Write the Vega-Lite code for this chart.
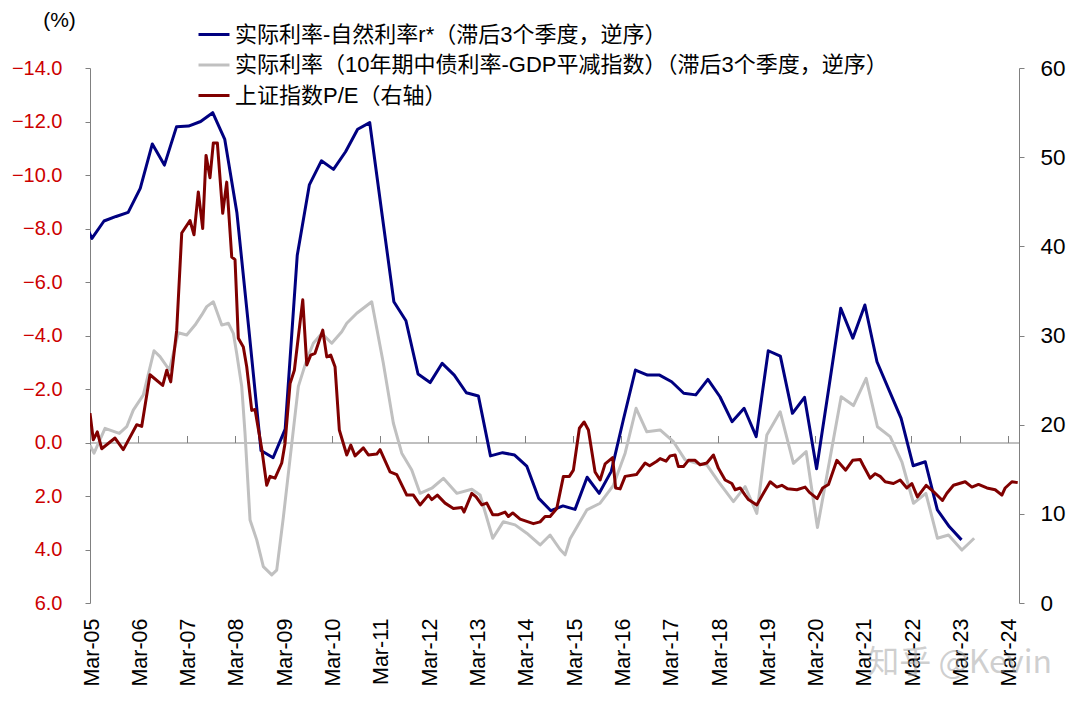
{
  "$schema": "https://vega.github.io/schema/vega-lite/v6.json",
  "width": 929,
  "height": 535,
  "autosize": "none",
  "padding": {"left": 90, "top": 68, "right": 60, "bottom": 103},
  "background": "white",
  "title": {"text": "知乎 @Kevin", "orient": "bottom", "anchor": "end", "frame": "group", "color": "rgba(160,160,160,0.5)", "fontSize": 32, "fontWeight": "normal", "font": "Noto Sans CJK SC", "offset": -38, "dx": 33},
  "datasets": {
    "navy": [
      {"t": 2004.95, "v": -8.6}, {"t": 2005.2, "v": -7.63}, {"t": 2005.45, "v": -8.28}, {"t": 2005.7, "v": -8.45}, {"t": 2005.95, "v": -8.6},
      {"t": 2006.2, "v": -9.5}, {"t": 2006.45, "v": -11.16}, {"t": 2006.7, "v": -10.37}, {"t": 2006.95, "v": -11.8},
      {"t": 2007.2, "v": -11.83}, {"t": 2007.45, "v": -12.0}, {"t": 2007.7, "v": -12.33}, {"t": 2007.95, "v": -11.33},
      {"t": 2008.2, "v": -8.6}, {"t": 2008.45, "v": -4.2}, {"t": 2008.7, "v": 0.3}, {"t": 2008.95, "v": 0.57},
      {"t": 2009.2, "v": -0.5}, {"t": 2009.45, "v": -7.0}, {"t": 2009.7, "v": -9.63}, {"t": 2009.95, "v": -10.53},
      {"t": 2010.2, "v": -10.21}, {"t": 2010.45, "v": -10.87}, {"t": 2010.7, "v": -11.71}, {"t": 2010.95, "v": -11.96},
      {"t": 2011.2, "v": -8.6}, {"t": 2011.45, "v": -5.26}, {"t": 2011.7, "v": -4.55}, {"t": 2011.95, "v": -2.56},
      {"t": 2012.2, "v": -2.24}, {"t": 2012.45, "v": -2.96}, {"t": 2012.7, "v": -2.52}, {"t": 2012.95, "v": -1.86},
      {"t": 2013.2, "v": -1.74}, {"t": 2013.45, "v": 0.5}, {"t": 2013.7, "v": 0.38}, {"t": 2013.95, "v": 0.47},
      {"t": 2014.2, "v": 0.88}, {"t": 2014.45, "v": 2.09}, {"t": 2014.7, "v": 2.55}, {"t": 2014.95, "v": 2.37},
      {"t": 2015.2, "v": 2.5}, {"t": 2015.45, "v": 1.3}, {"t": 2015.7, "v": 1.9}, {"t": 2015.95, "v": 1.08},
      {"t": 2016.2, "v": -0.85}, {"t": 2016.45, "v": -2.71}, {"t": 2016.7, "v": -2.52}, {"t": 2016.95, "v": -2.52},
      {"t": 2017.2, "v": -2.27}, {"t": 2017.45, "v": -1.84}, {"t": 2017.7, "v": -1.78}, {"t": 2017.95, "v": -2.36},
      {"t": 2018.2, "v": -1.71}, {"t": 2018.45, "v": -0.78}, {"t": 2018.7, "v": -1.28}, {"t": 2018.95, "v": -0.22},
      {"t": 2019.2, "v": -3.43}, {"t": 2019.45, "v": -3.23}, {"t": 2019.7, "v": -1.09}, {"t": 2019.95, "v": -1.69},
      {"t": 2020.2, "v": 0.98}, {"t": 2020.45, "v": -2.0}, {"t": 2020.7, "v": -5.02}, {"t": 2020.95, "v": -3.9},
      {"t": 2021.2, "v": -5.14}, {"t": 2021.45, "v": -3.02}, {"t": 2021.7, "v": -1.96}, {"t": 2021.95, "v": -0.9},
      {"t": 2022.2, "v": 0.87}, {"t": 2022.45, "v": 0.72}, {"t": 2022.7, "v": 2.52}, {"t": 2022.95, "v": 3.15},
      {"t": 2023.2, "v": 3.64}
    ],
    "gray": [
      {"t": 2005.16, "v": 0.1}, {"t": 2005.243, "v": 0.4}, {"t": 2005.471, "v": -0.53}, {"t": 2005.767, "v": -0.34}, {"t": 2005.92, "v": -0.59},
      {"t": 2006.056, "v": -1.21}, {"t": 2006.264, "v": -1.78}, {"t": 2006.485, "v": -3.43}, {"t": 2006.609, "v": -3.21}, {"t": 2006.802, "v": -2.71}, {"t": 2006.988, "v": -4.1},
      {"t": 2007.162, "v": -4.02}, {"t": 2007.334, "v": -4.39}, {"t": 2007.473, "v": -4.77}, {"t": 2007.576, "v": -5.08}, {"t": 2007.713, "v": -5.26}, {"t": 2007.887, "v": -4.39},
      {"t": 2008.023, "v": -4.46}, {"t": 2008.127, "v": -4.08}, {"t": 2008.197, "v": -3.33}, {"t": 2008.301, "v": -2.09}, {"t": 2008.369, "v": -0.34}, {"t": 2008.473, "v": 2.9},
      {"t": 2008.611, "v": 3.64}, {"t": 2008.748, "v": 4.64}, {"t": 2008.922, "v": 4.95}, {"t": 2009.025, "v": 4.77}, {"t": 2009.162, "v": 2.8}, {"t": 2009.301, "v": 0.6},
      {"t": 2009.473, "v": -2.1}, {"t": 2009.647, "v": -3.1}, {"t": 2009.783, "v": -3.71}, {"t": 2009.957, "v": -4.08}, {"t": 2010.164, "v": -3.71}, {"t": 2010.371, "v": -4.14},
      {"t": 2010.475, "v": -4.46}, {"t": 2010.682, "v": -4.83}, {"t": 2010.992, "v": -5.26}, {"t": 2011.232, "v": -2.96}, {"t": 2011.44, "v": -0.72}, {"t": 2011.613, "v": 0.4},
      {"t": 2011.82, "v": 1.03}, {"t": 2011.992, "v": 1.9}, {"t": 2012.235, "v": 1.71}, {"t": 2012.475, "v": 1.34}, {"t": 2012.752, "v": 1.9}, {"t": 2013.063, "v": 1.75},
      {"t": 2013.235, "v": 1.96}, {"t": 2013.497, "v": 3.58}, {"t": 2013.717, "v": 2.96}, {"t": 2013.959, "v": 3.08}, {"t": 2014.201, "v": 3.39}, {"t": 2014.477, "v": 3.83},
      {"t": 2014.684, "v": 3.46}, {"t": 2014.891, "v": 4.0}, {"t": 2014.994, "v": 4.2}, {"t": 2015.098, "v": 3.6}, {"t": 2015.444, "v": 2.52}, {"t": 2015.719, "v": 2.27},
      {"t": 2015.994, "v": 1.6}, {"t": 2016.237, "v": 0.4}, {"t": 2016.464, "v": -1.28}, {"t": 2016.686, "v": -0.4}, {"t": 2016.961, "v": -0.47}, {"t": 2017.237, "v": -0.03},
      {"t": 2017.479, "v": 0.65}, {"t": 2017.721, "v": 0.78}, {"t": 2017.928, "v": 0.84}, {"t": 2018.168, "v": 1.46}, {"t": 2018.479, "v": 2.21}, {"t": 2018.721, "v": 1.65},
      {"t": 2018.963, "v": 2.65}, {"t": 2019.17, "v": -0.28}, {"t": 2019.446, "v": -1.15}, {"t": 2019.721, "v": 0.78}, {"t": 2019.984, "v": 0.34}, {"t": 2020.218, "v": 3.18},
      {"t": 2020.709, "v": -1.71}, {"t": 2020.963, "v": -1.38}, {"t": 2021.226, "v": -2.4}, {"t": 2021.46, "v": -0.59}, {"t": 2021.723, "v": -0.22}, {"t": 2021.965, "v": 0.72},
      {"t": 2022.206, "v": 2.27}, {"t": 2022.462, "v": 1.9}, {"t": 2022.702, "v": 3.58}, {"t": 2022.93, "v": 3.46}, {"t": 2023.208, "v": 4.02}, {"t": 2023.462, "v": 3.58}
    ],
    "pe": [
      {"t": 2005.16, "v": 21.3}, {"t": 2005.228, "v": 18.3}, {"t": 2005.311, "v": 19.2}, {"t": 2005.402, "v": 17.3}, {"t": 2005.678, "v": 18.5}, {"t": 2005.849, "v": 17.2},
      {"t": 2006.127, "v": 20.0}, {"t": 2006.23, "v": 19.8}, {"t": 2006.402, "v": 25.6}, {"t": 2006.665, "v": 24.4}, {"t": 2006.748, "v": 26.1}, {"t": 2006.831, "v": 24.8},
      {"t": 2006.955, "v": 30.6}, {"t": 2007.059, "v": 41.5}, {"t": 2007.23, "v": 42.9}, {"t": 2007.313, "v": 41.3}, {"t": 2007.402, "v": 46.1}, {"t": 2007.493, "v": 42.0},
      {"t": 2007.562, "v": 50.2}, {"t": 2007.644, "v": 47.7}, {"t": 2007.713, "v": 51.6}, {"t": 2007.796, "v": 51.6}, {"t": 2007.907, "v": 43.7}, {"t": 2007.99, "v": 47.2},
      {"t": 2008.094, "v": 38.8}, {"t": 2008.162, "v": 38.5}, {"t": 2008.23, "v": 29.7}, {"t": 2008.334, "v": 28.7}, {"t": 2008.404, "v": 26.5}, {"t": 2008.508, "v": 21.6},
      {"t": 2008.576, "v": 21.7}, {"t": 2008.715, "v": 17.3}, {"t": 2008.818, "v": 13.2}, {"t": 2008.887, "v": 14.2}, {"t": 2008.99, "v": 14.0}, {"t": 2009.129, "v": 15.7},
      {"t": 2009.197, "v": 17.9}, {"t": 2009.301, "v": 24.6}, {"t": 2009.39, "v": 26.1}, {"t": 2009.564, "v": 34.0}, {"t": 2009.647, "v": 26.7}, {"t": 2009.729, "v": 27.8},
      {"t": 2009.818, "v": 28.0}, {"t": 2009.978, "v": 30.6}, {"t": 2010.061, "v": 27.6}, {"t": 2010.143, "v": 27.8}, {"t": 2010.232, "v": 26.5}, {"t": 2010.321, "v": 19.4},
      {"t": 2010.475, "v": 16.6}, {"t": 2010.558, "v": 17.7}, {"t": 2010.647, "v": 16.5}, {"t": 2010.818, "v": 17.4}, {"t": 2010.922, "v": 16.6}, {"t": 2011.096, "v": 16.7},
      {"t": 2011.164, "v": 17.2}, {"t": 2011.371, "v": 14.7}, {"t": 2011.51, "v": 14.4}, {"t": 2011.717, "v": 12.1}, {"t": 2011.854, "v": 12.1}, {"t": 2011.992, "v": 11.0},
      {"t": 2012.164, "v": 12.1}, {"t": 2012.235, "v": 11.6}, {"t": 2012.35, "v": 12.1}, {"t": 2012.51, "v": 11.2}, {"t": 2012.682, "v": 10.6}, {"t": 2012.856, "v": 10.7},
      {"t": 2012.903, "v": 10.2}, {"t": 2013.063, "v": 12.3}, {"t": 2013.152, "v": 11.9}, {"t": 2013.27, "v": 11.0}, {"t": 2013.373, "v": 11.2}, {"t": 2013.497, "v": 9.9},
      {"t": 2013.613, "v": 9.9}, {"t": 2013.752, "v": 10.2}, {"t": 2013.82, "v": 9.7}, {"t": 2013.911, "v": 10.1}, {"t": 2014.063, "v": 9.4}, {"t": 2014.338, "v": 8.9},
      {"t": 2014.477, "v": 9.1}, {"t": 2014.58, "v": 9.7}, {"t": 2014.684, "v": 9.7}, {"t": 2014.822, "v": 10.6}, {"t": 2014.959, "v": 14.2}, {"t": 2015.083, "v": 14.2},
      {"t": 2015.166, "v": 14.9}, {"t": 2015.29, "v": 19.6}, {"t": 2015.388, "v": 20.3}, {"t": 2015.477, "v": 19.4}, {"t": 2015.615, "v": 14.7}, {"t": 2015.719, "v": 13.8},
      {"t": 2015.823, "v": 15.6}, {"t": 2015.978, "v": 16.3}, {"t": 2016.04, "v": 12.9}, {"t": 2016.133, "v": 12.8}, {"t": 2016.237, "v": 14.2}, {"t": 2016.471, "v": 14.4},
      {"t": 2016.651, "v": 15.7}, {"t": 2016.744, "v": 15.4}, {"t": 2016.893, "v": 15.9}, {"t": 2016.961, "v": 16.2}, {"t": 2017.085, "v": 15.9}, {"t": 2017.168, "v": 16.5},
      {"t": 2017.272, "v": 16.6}, {"t": 2017.34, "v": 15.3}, {"t": 2017.444, "v": 15.3}, {"t": 2017.547, "v": 16.0}, {"t": 2017.686, "v": 16.0}, {"t": 2017.789, "v": 15.5},
      {"t": 2017.928, "v": 15.7}, {"t": 2018.065, "v": 16.6}, {"t": 2018.168, "v": 15.1}, {"t": 2018.307, "v": 13.8}, {"t": 2018.446, "v": 13.4}, {"t": 2018.514, "v": 12.7},
      {"t": 2018.618, "v": 12.9}, {"t": 2018.721, "v": 12.1}, {"t": 2018.789, "v": 11.6}, {"t": 2018.963, "v": 11.0}, {"t": 2019.1, "v": 12.3}, {"t": 2019.239, "v": 13.6},
      {"t": 2019.377, "v": 13.0}, {"t": 2019.481, "v": 13.2}, {"t": 2019.601, "v": 12.8}, {"t": 2019.791, "v": 12.7}, {"t": 2019.963, "v": 13.0}, {"t": 2020.052, "v": 12.4},
      {"t": 2020.212, "v": 11.7}, {"t": 2020.326, "v": 12.9}, {"t": 2020.446, "v": 13.3}, {"t": 2020.62, "v": 16.0}, {"t": 2020.802, "v": 14.9}, {"t": 2020.947, "v": 16.0},
      {"t": 2021.102, "v": 16.1}, {"t": 2021.158, "v": 15.5}, {"t": 2021.309, "v": 14.0}, {"t": 2021.413, "v": 14.5}, {"t": 2021.516, "v": 14.2}, {"t": 2021.62, "v": 13.6},
      {"t": 2021.791, "v": 13.4}, {"t": 2021.93, "v": 13.8}, {"t": 2022.069, "v": 12.9}, {"t": 2022.172, "v": 13.4}, {"t": 2022.288, "v": 11.9}, {"t": 2022.468, "v": 13.2},
      {"t": 2022.619, "v": 12.5}, {"t": 2022.806, "v": 11.5}, {"t": 2022.897, "v": 12.3}, {"t": 2023.034, "v": 13.2}, {"t": 2023.276, "v": 13.6}, {"t": 2023.415, "v": 13.0},
      {"t": 2023.551, "v": 13.3}, {"t": 2023.725, "v": 12.9}, {"t": 2023.897, "v": 12.7}, {"t": 2024.036, "v": 12.1}, {"t": 2024.104, "v": 12.9}, {"t": 2024.243, "v": 13.6},
      {"t": 2024.363, "v": 13.5}
    ]
  },
  "layer": [
    {
      "layer": [
        {
          "data": {"name": "gray"},
          "mark": {"type": "line", "strokeWidth": 3, "clip": true, "strokeJoin": "round"},
          "encoding": {
            "x": {"field": "t", "type": "quantitative", "scale": {"domain": [2005.16, 2024.39], "nice": false, "zero": false},
              "axis": {"orient": "bottom", "title": null, "domain": false, "ticks": false, "grid": false,
                "values": [2005.16, 2006.16, 2007.16, 2008.16, 2009.16, 2010.16, 2011.16, 2012.16, 2013.16, 2014.16, 2015.16, 2016.16, 2017.16, 2018.16, 2019.16, 2020.16, 2021.16, 2022.16, 2023.16, 2024.16],
                "labelExpr": "'Mar-' + format(floor(datum.value) % 100, '02d')",
                "labelAngle": -90, "labelAlign": "right", "labelBaseline": "middle", "labelPadding": 15, "labelOffset": 2,
                "labelFontSize": 21.5, "labelFont": "Liberation Sans", "labelColor": "#000000", "labelOverlap": false, "labelBound": false, "labelFlush": false}},
            "y": {"field": "v", "type": "quantitative", "scale": {"domain": [-14, 6], "reverse": true, "nice": false, "zero": false},
              "axis": {"orient": "left", "title": "(%)", "titleAngle": 0, "titleX": -31, "titleY": -48, "titleAlign": "center", "titleBaseline": "middle",
                "titleFontSize": 21, "titleFontWeight": "normal", "titleFont": "Liberation Sans", "titleColor": "#000000",
                "values": [-14, -12, -10, -8, -6, -4, -2, 0, 2, 4, 6], "format": ".1f", "labelFontSize": 20, "labelFont": "Liberation Sans",
                "labelColor": "#CC0000", "labelPadding": 23, "tickSize": 5, "grid": false, "domainColor": "#808080", "tickColor": "#808080"}},
            "color": {"datum": "实际利率（10年期中债利率-GDP平减指数）（滞后3个季度，逆序）",
              "scale": {"domain": ["实际利率-自然利率r*（滞后3个季度，逆序）", "实际利率（10年期中债利率-GDP平减指数）（滞后3个季度，逆序）", "上证指数P/E（右轴）"],
                "range": ["#000080", "#C0C0C0", "#800000"]},
              "legend": {"orient": "none", "legendX": 107, "legendY": -50.5, "title": null, "symbolType": "stroke", "symbolSize": 961, "symbolStrokeWidth": 3,
                "labelFontSize": 22, "labelFont": "Liberation Sans, Noto Sans CJK SC", "labelColor": "#000000", "labelLimit": 900, "labelOffset": 4, "rowPadding": 2.5, "padding": 0}}
          }
        },
        {
          "data": {"name": "navy"},
          "mark": {"type": "line", "strokeWidth": 3, "clip": true, "strokeJoin": "round"},
          "encoding": {
            "x": {"field": "t", "type": "quantitative"},
            "y": {"field": "v", "type": "quantitative"},
            "color": {"datum": "实际利率-自然利率r*（滞后3个季度，逆序）"}
          }
        }
      ]
    },
    {
      "data": {"name": "pe"},
      "mark": {"type": "line", "strokeWidth": 3, "clip": true, "strokeJoin": "round"},
      "encoding": {
        "x": {"field": "t", "type": "quantitative",
          "axis": {"orient": "bottom", "offset": -160.5, "title": null, "labels": false, "domain": true, "ticks": true, "tickSize": -7, "grid": false,
            "domainColor": "#808080", "tickColor": "#808080",
            "values": [2005.16, 2006.16, 2007.16, 2008.16, 2009.16, 2010.16, 2011.16, 2012.16, 2013.16, 2014.16, 2015.16, 2016.16, 2017.16, 2018.16, 2019.16, 2020.16, 2021.16, 2022.16, 2023.16, 2024.16]}},
        "y": {"field": "v", "type": "quantitative", "scale": {"domain": [0, 60], "nice": false, "zero": true},
          "axis": {"orient": "right", "title": null, "values": [0, 10, 20, 30, 40, 50, 60], "format": "d", "labelFontSize": 22.5, "labelFont": "Liberation Sans",
            "labelColor": "#000000", "labelPadding": 16, "tickSize": 5, "grid": false, "domainColor": "#808080", "tickColor": "#808080"}},
        "color": {"datum": "上证指数P/E（右轴）"}
      }
    }
  ],
  "resolve": {"scale": {"y": "independent"}, "axis": {"x": "independent", "y": "independent"}},
  "config": {
    "view": {"stroke": null},
    "font": "Liberation Sans, Noto Sans CJK SC",
    "axis": {"grid": false}
  }
}
